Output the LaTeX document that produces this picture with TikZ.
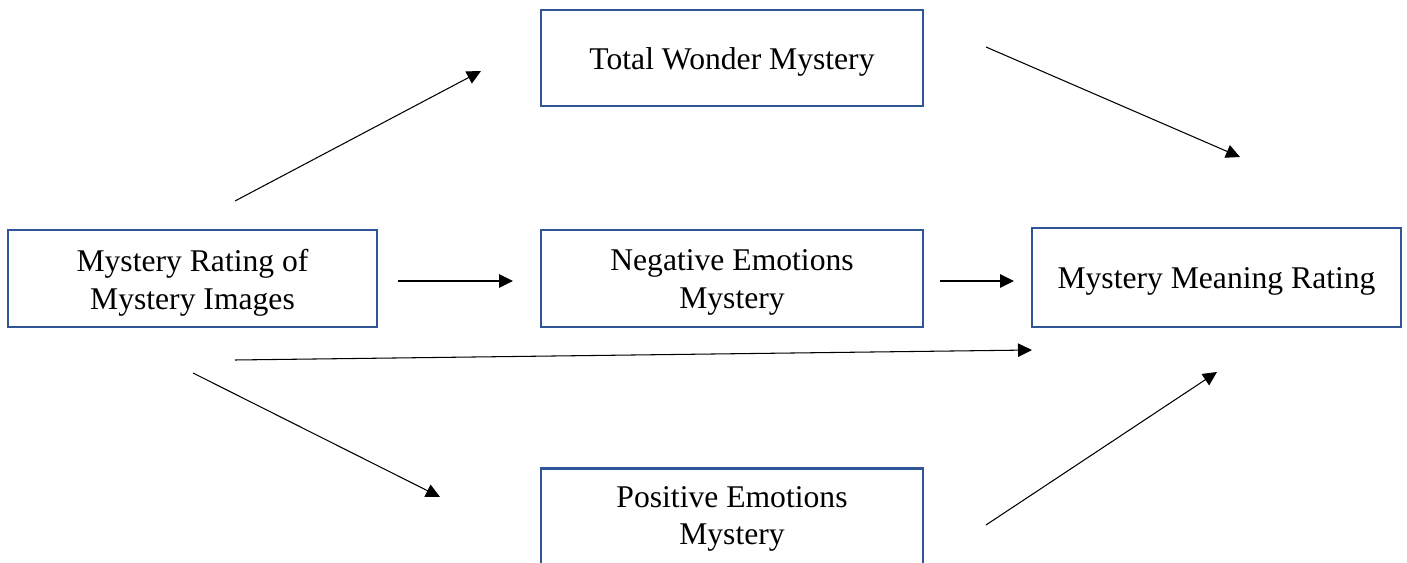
\documentclass[tikz,border=0pt]{standalone}
\usepackage{fontspec}
\setmainfont{Liberation Serif}
\usetikzlibrary{arrows.meta}
\definecolor{boxblue}{HTML}{2F5597}
\begin{document}
\begin{tikzpicture}[x=0.02cm,y=-0.02cm,
  box/.style={draw=boxblue,line width=1.25pt,rectangle,inner sep=0pt},
  txt/.style={inner sep=0pt,align=center,font=\fontsize{18}{21.5}\selectfont},
  arr/.style={line width=0.6pt,-{Triangle[length=0.28cm,width=0.27cm]}}]
\clip (0,0) rectangle (1407,563);
\node[box,minimum width=7.38cm,minimum height=1.94cm] (A) at (192.5,278.5) {};
\node[box,minimum width=7.64cm,minimum height=1.92cm] (TW) at (732,58) {};
\node[box,minimum width=7.64cm,minimum height=1.94cm] (NE) at (732,278.5) {};
\node[box,minimum width=7.64cm,minimum height=1.94cm] (PE) at (732,517) {};
\node[box,minimum width=7.38cm,minimum height=1.98cm] (MM) at (1216.5,277.5) {};
\node[txt] (At) at ([yshift=-0.08cm]A.center) {Mystery Rating of\\Mystery Images};
\node[txt] (TWt) at ([yshift=-0.08cm]TW.center) {Total Wonder Mystery};
\node[txt] (NEt) at ([yshift=-0.08cm]NE.center) {Negative Emotions\\Mystery};
\node[txt] (PEt) at ([yshift=-0.04cm]PE.center) {Positive Emotions\\Mystery};
\node[txt] (MMt) at ([yshift=-0.08cm]MM.center) {Mystery Meaning Rating};
\coordinate (a1s) at (235,201); \coordinate (a1e) at (481,71);
\coordinate (a2s) at (986,47); \coordinate (a2e) at (1240,157);
\coordinate (a3s) at (398,281); \coordinate (a3e) at (513,281);
\coordinate (a4s) at (940,281); \coordinate (a4e) at (1014,281);
\coordinate (a5s) at (235,360); \coordinate (a5e) at (1032,350);
\coordinate (a6s) at (193,373); \coordinate (a6e) at (440,497);
\coordinate (a7s) at (986,525); \coordinate (a7e) at (1217,372);
\draw[arr] (a1s) -- (a1e);
\draw[arr] (a2s) -- (a2e);
\draw[arr] (a3s) -- (a3e);
\draw[arr] (a4s) -- (a4e);
\draw[arr] (a5s) -- (a5e);
\draw[arr] (a6s) -- (a6e);
\draw[arr] (a7s) -- (a7e);
\end{tikzpicture}
\end{document}
